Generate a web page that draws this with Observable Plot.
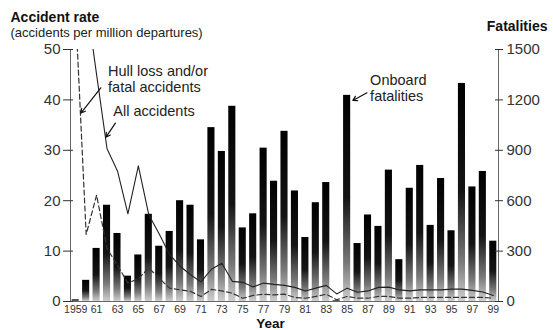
<!DOCTYPE html>
<html>
<head>
<meta charset="utf-8">
<script src="https://cdn.jsdelivr.net/npm/d3@7"></script>
<script src="https://cdn.jsdelivr.net/npm/@observablehq/plot@0.6"></script>
<style>
  html, body { margin: 0; padding: 0; background: #fff; }
</style>
</head>
<body>
<script>
// ---- Data ----
const years = [1959,1960,1961,1962,1963,1964,1965,1966,1967,1968,1969,1970,1971,1972,1973,1974,1975,1976,1977,1978,1979,1980,1981,1982,1983,1984,1985,1986,1987,1988,1989,1990,1991,1992,1993,1994,1995,1996,1997,1998,1999];
const fatalities = [10,126,316,573,405,151,277,519,329,417,600,573,367,1035,893,1162,438,522,913,716,1013,658,381,588,708,4,1227,345,515,447,782,249,674,810,453,732,421,1298,682,774,359];
const allAccidentsRate = [null,60,45,30.3,25.9,17.4,26.9,17.2,13.4,9.3,7.0,5.3,3.9,6.4,7.6,4.0,3.8,2.9,3.65,3.4,3.2,2.8,2.1,2.65,3.2,1.5,2.65,1.85,2.1,2.8,2.85,2.3,2.1,2.3,2.3,2.3,2.45,2.45,2.2,1.9,1.2];
const hullLossRate = [57,13.3,21.1,10.5,7.2,3.65,4.5,6.65,4.6,2.65,2.3,2.0,1.0,2.4,2.1,1.65,0.65,1.2,1.45,1.3,1.45,0.8,0.65,1.0,1.45,0.35,1.0,0.65,0.65,1.0,1.0,0.65,0.65,0.8,0.8,0.8,0.8,0.8,0.8,0.8,0.65];

const xTicks = [1959,1961,1963,1965,1967,1969,1971,1973,1975,1977,1979,1981,1983,1985,1987,1989,1991,1993,1995,1997,1999];
const xTickLabels = ["1959","61","63","65","67","69","71","73","75","77","79","81","83","85","87","89","91","93","95","97","99"];
const rateTicks = [0,10,20,30,40,50];
const fatalTickLabels = ["0","300","600","900","1200","1500"];
const fatalPerRate = 30; // 1500 fatalities <-> rate 50

const annotationLines = [
  {x: 1962.1, y: 46.8, label: "Hull loss and/or"},
  {x: 1962.1, y: 43.6, label: "fatal accidents"},
  {x: 1962.6, y: 38.8, label: "All accidents"},
  {x: 1987.2, y: 45.0, label: "Onboard"},
  {x: 1987.2, y: 41.8, label: "fatalities"}
];
const arrows = [
  {x1: 1961.4, y1: 42.4, x2: 1959.5, y2: 37.4},
  {x1: 1962.8, y1: 35.4, x2: 1961.9, y2: 32.6},
  {x1: 1986.9, y1: 41.4, x2: 1985.55, y2: 39.9}
];

const rows = years.map((year, i) => ({
  year, fatal: fatalities[i], all: allAccidentsRate[i], hull: hullLossRate[i]
}));

const font = "'Liberation Sans', Arial, Helvetica, sans-serif";

const chart = Plot.plot({
  width: 553,
  height: 330,
  marginLeft: 70,
  marginRight: 55,
  marginTop: 49,
  marginBottom: 29,
  style: {fontFamily: font, color: "#222", background: "#fff", overflow: "visible"},
  x: {domain: [1958.5, 1999.5]},
  y: {domain: [0, 50]},
  marks: [
    Plot.rect(rows, {
      x1: d => d.year - 0.34,
      x2: d => d.year + 0.34,
      y1: () => 0,
      y2: d => d.fatal / fatalPerRate,
      fill: "url(#barGrad)"
    }),
    Plot.line(rows, {x: "year", y: "hull", stroke: "#333", strokeWidth: 1.2, strokeDasharray: "5,3", clip: true}),
    Plot.line(rows, {x: "year", y: "all", stroke: "#222", strokeWidth: 1.1, clip: true}),
    Plot.ruleX([1958.5, 1999.5], {stroke: "#666", strokeWidth: 1}),
    Plot.ruleY([0], {stroke: "#666", strokeWidth: 1}),
    Plot.axisX({ticks: xTicks, tickFormat: d => xTickLabels[xTicks.indexOf(d)], tickSize: 0, tickPadding: 4, fontSize: 10.5, label: null, color: "#333"}),
    Plot.axisY({anchor: "left", ticks: rateTicks, tickSize: 7, tickPadding: 3, fontSize: 15, label: null, color: "#333"}),
    Plot.axisY({anchor: "left", ticks: rateTicks, tickSize: -3, tickFormat: () => "", label: null, color: "#333"}),
    Plot.axisY({anchor: "right", ticks: rateTicks, tickFormat: d => fatalTickLabels[rateTicks.indexOf(d)], tickSize: 4, tickPadding: 4, fontSize: 15, label: null, color: "#333"}),
    Plot.axisY({anchor: "right", ticks: rateTicks, tickSize: -4, tickFormat: () => "", label: null, color: "#333"}),
    Plot.text(annotationLines, {x: "x", y: "y", text: "label", textAnchor: "start", lineAnchor: "top", fontSize: 14.5, fill: "#222"}),
    Plot.arrow(arrows, {x1: "x1", y1: "y1", x2: "x2", y2: "y2", stroke: "#111", strokeWidth: 1.2, headLength: 6, bend: 0}),
    Plot.text(["Accident rate"], {text: d => d, frameAnchor: "top-left", dx: -60, dy: -28, textAnchor: "start", lineAnchor: "bottom", fontSize: 14, fontWeight: "bold", fill: "#111"}),
    Plot.text(["(accidents per million departures)"], {text: d => d, frameAnchor: "top-left", dx: -60, dy: -13, textAnchor: "start", lineAnchor: "bottom", fontSize: 13, fill: "#222"}),
    Plot.text(["Fatalities"], {text: d => d, frameAnchor: "top-right", dx: 49, dy: -19, textAnchor: "end", lineAnchor: "bottom", fontSize: 14, fontWeight: "bold", fill: "#111"}),
    Plot.text(["Year"], {text: d => d, frameAnchor: "bottom", dx: -14, dy: 26, textAnchor: "middle", lineAnchor: "bottom", fontSize: 13.5, fontWeight: "bold", fill: "#111"})
  ]
});

// gradient for the bars (dark top fading to light grey at the base)
const svg = d3.select(chart);
const grad = svg.insert("defs", ":first-child")
  .append("linearGradient")
  .attr("id", "barGrad")
  .attr("x1", 0).attr("y1", 0).attr("x2", 0).attr("y2", 1);
[[0, "#000"], [0.5, "#141414"], [0.82, "#7a7a7a"], [1, "#cfcfcf"]].forEach(([o, c]) =>
  grad.append("stop").attr("offset", o).attr("stop-color", c));

document.body.appendChild(chart);
</script>
</body>
</html>
